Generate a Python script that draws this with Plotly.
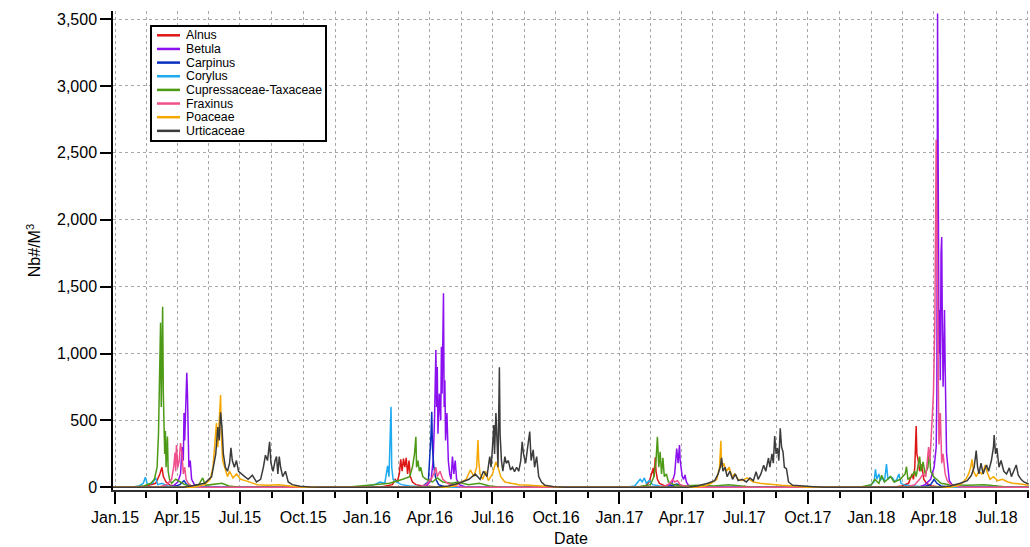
import plotly.graph_objects as go

# ---------------------------------------------------------------- data
# Daily airborne pollen concentrations (grains / m3), 2015 - 2018.
# Off-season days are zero; each list holds the season's readings.

alnus_dates = [
    "2014-12-29", "2015-02-01", "2015-02-15", "2015-02-22", "2015-03-01", "2015-03-07", "2015-03-10",
    "2015-03-12", "2015-03-16", "2015-03-22", "2015-04-05", "2015-04-20",
    "2016-01-20", "2016-02-07", "2016-02-11", "2016-02-14", "2016-02-17", "2016-02-19", "2016-02-21",
    "2016-02-23", "2016-02-25", "2016-02-27", "2016-02-29", "2016-03-02", "2016-03-04", "2016-03-07",
    "2016-03-12", "2016-03-22", "2016-04-03", "2016-04-20",
    "2017-01-25", "2017-02-08", "2017-02-13", "2017-02-17", "2017-02-19", "2017-02-20", "2017-02-22",
    "2017-02-23", "2017-02-25", "2017-02-28", "2017-03-08", "2017-03-25",
    "2018-02-01", "2018-02-14", "2018-02-24", "2018-03-01", "2018-03-03", "2018-03-05", "2018-03-07",
    "2018-03-08", "2018-03-10", "2018-03-12", "2018-03-15", "2018-03-18", "2018-03-22", "2018-03-29",
    "2018-04-15", "2018-08-17",
]
alnus_vals = [
    0, 0, 10, 20, 30, 100, 150, 80, 40, 15, 5, 0,
    0, 20, 60, 40, 100, 210, 120, 215, 150, 220, 100, 200, 80, 40, 20, 10, 5, 0,
    0, 10, 40, 100, 145, 80, 224, 120, 60, 30, 10, 0,
    0, 10, 30, 100, 60, 150, 458, 250, 200, 120, 170, 60, 30, 10, 0, 0,
]

betula_dates = [
    "2014-12-29", "2015-03-15", "2015-03-26", "2015-04-02", "2015-04-06", "2015-04-08", "2015-04-10",
    "2015-04-11", "2015-04-12", "2015-04-13", "2015-04-14", "2015-04-15", "2015-04-16", "2015-04-17",
    "2015-04-18", "2015-04-20", "2015-04-22", "2015-04-26", "2015-05-03", "2015-05-20",
    "2016-03-15", "2016-03-27", "2016-04-03", "2016-04-06", "2016-04-08", "2016-04-10", "2016-04-11",
    "2016-04-12", "2016-04-13", "2016-04-15", "2016-04-17", "2016-04-18", "2016-04-19", "2016-04-21",
    "2016-04-22", "2016-04-23", "2016-04-24", "2016-04-26", "2016-04-28", "2016-04-30", "2016-05-02",
    "2016-05-04", "2016-05-06", "2016-05-08", "2016-05-10", "2016-05-14", "2016-05-22", "2016-06-05",
    "2017-03-05", "2017-03-13", "2017-03-18", "2017-03-22", "2017-03-24", "2017-03-25", "2017-03-27",
    "2017-03-29", "2017-03-30", "2017-03-31", "2017-04-02", "2017-04-04", "2017-04-06", "2017-04-08",
    "2017-04-11", "2017-04-18", "2017-05-01",
    "2018-03-10", "2018-03-20", "2018-03-28", "2018-04-02", "2018-04-05", "2018-04-06", "2018-04-07",
    "2018-04-08", "2018-04-09", "2018-04-10", "2018-04-11", "2018-04-12", "2018-04-13", "2018-04-14",
    "2018-04-15", "2018-04-16", "2018-04-17", "2018-04-18", "2018-04-19", "2018-04-20", "2018-04-22",
    "2018-04-24", "2018-04-28", "2018-05-05", "2018-05-20", "2018-08-17",
]
betula_vals = [
    0, 0, 10, 40, 100, 300, 200, 555, 350, 600, 820, 857, 700, 300, 150, 200, 60, 20, 5, 0,
    0, 10, 50, 200, 500, 1026, 600, 900, 400, 700, 500, 1050, 700, 1450, 600, 800, 350, 555,
    200, 100, 60, 230, 100, 200, 60, 20, 5, 0,
    0, 10, 30, 100, 250, 290, 180, 316, 200, 166, 80, 60, 92, 40, 15, 5, 0,
    0, 20, 60, 150, 300, 700, 3542, 1300, 1000, 1325, 800, 1750, 1870, 1150, 752, 1000, 1325,
    900, 600, 256, 150, 50, 20, 5, 0, 0,
]

carpinus_dates = [
    "2014-12-29", "2015-03-25", "2015-04-05", "2015-04-11", "2015-04-15", "2015-04-25",
    "2016-03-15", "2016-03-22", "2016-03-30", "2016-04-01", "2016-04-03", "2016-04-04", "2016-04-05",
    "2016-04-07", "2016-04-10", "2016-04-14", "2016-04-22", "2016-05-05",
    "2017-03-10", "2017-03-20", "2017-03-25", "2017-04-02", "2017-04-15",
    "2018-03-15", "2018-03-28", "2018-04-02", "2018-04-06", "2018-04-12", "2018-04-25", "2018-08-17",
]
carpinus_vals = [
    0, 0, 20, 50, 20, 0,
    0, 10, 40, 200, 400, 565, 300, 150, 60, 20, 5, 0,
    0, 15, 25, 10, 0,
    0, 20, 60, 30, 10, 0, 0,
]

corylus_dates = [
    "2014-12-29", "2015-01-25", "2015-02-05", "2015-02-11", "2015-02-14", "2015-02-17", "2015-02-24",
    "2015-03-01", "2015-03-04", "2015-03-10", "2015-03-18", "2015-04-01",
    "2015-12-25", "2016-01-12", "2016-01-20", "2016-01-27", "2016-01-31", "2016-02-02", "2016-02-05",
    "2016-02-06", "2016-02-08", "2016-02-13", "2016-02-20", "2016-03-03", "2016-03-22", "2016-04-05",
    "2017-01-10", "2017-01-23", "2017-01-31", "2017-02-03", "2017-02-06", "2017-02-09", "2017-02-13",
    "2017-02-18", "2017-02-28", "2017-03-12",
    "2017-12-20", "2017-12-29", "2018-01-05", "2018-01-07", "2018-01-09", "2018-01-12", "2018-01-14",
    "2018-01-17", "2018-01-20", "2018-01-23", "2018-01-25", "2018-01-28", "2018-02-01", "2018-02-04",
    "2018-02-07", "2018-02-10", "2018-02-13", "2018-02-19", "2018-03-05", "2018-03-20", "2018-08-17",
]
corylus_vals = [
    0, 0, 10, 30, 75, 20, 30, 70, 20, 30, 10, 0,
    0, 20, 40, 30, 160, 80, 602, 150, 60, 40, 20, 10, 5, 0,
    0, 10, 60, 40, 70, 30, 50, 20, 10, 0,
    0, 10, 40, 134, 60, 100, 50, 75, 40, 174, 60, 80, 70, 40, 60, 100, 30, 15, 10, 0, 0,
]

cupressaceae_dates = [
    "2014-12-29", "2015-01-20", "2015-02-12", "2015-02-22", "2015-02-27", "2015-03-03", "2015-03-05",
    "2015-03-07", "2015-03-08", "2015-03-09", "2015-03-10", "2015-03-11", "2015-03-12", "2015-03-13",
    "2015-03-14", "2015-03-15", "2015-03-16", "2015-03-18", "2015-03-19", "2015-03-21", "2015-03-24",
    "2015-03-30", "2015-04-05", "2015-04-12", "2015-04-22", "2015-05-02", "2015-05-08", "2015-05-12",
    "2015-06-05", "2015-06-15", "2015-07-01",
    "2015-12-01", "2015-12-22", "2016-01-12", "2016-02-03", "2016-02-22", "2016-03-03", "2016-03-07",
    "2016-03-10", "2016-03-12", "2016-03-13", "2016-03-15", "2016-03-17", "2016-03-19", "2016-03-22",
    "2016-03-27", "2016-04-05", "2016-04-12", "2016-04-20", "2016-05-03", "2016-05-12", "2016-05-27",
    "2016-06-12", "2016-06-27", "2016-07-15",
    "2017-01-25", "2017-02-15", "2017-02-20", "2017-02-23", "2017-02-25", "2017-02-27", "2017-03-01",
    "2017-03-03", "2017-03-05", "2017-03-07", "2017-03-10", "2017-03-13", "2017-03-21", "2017-04-04",
    "2017-04-23", "2017-05-18", "2017-06-08", "2017-06-28", "2017-07-15",
    "2017-12-15", "2018-01-01", "2018-01-06", "2018-01-12", "2018-01-16", "2018-01-20", "2018-01-29",
    "2018-02-03", "2018-02-12", "2018-02-19", "2018-02-21", "2018-02-23", "2018-02-28", "2018-03-05",
    "2018-03-07", "2018-03-10", "2018-03-12", "2018-03-14", "2018-03-17", "2018-03-20", "2018-03-24",
    "2018-03-26", "2018-03-28", "2018-04-01", "2018-04-06", "2018-04-12", "2018-04-24", "2018-05-19",
    "2018-06-14", "2018-07-04", "2018-07-20", "2018-08-17",
]
cupressaceae_vals = [
    0, 0, 10, 30, 60, 150, 400, 1000, 1230, 600, 900, 1350, 700, 300, 250, 420, 150, 380, 120,
    60, 30, 60, 40, 20, 10, 15, 70, 15, 30, 10, 0,
    0, 10, 20, 30, 60, 80, 150, 250, 378, 150, 200, 120, 150, 80, 60, 40, 70, 40, 30, 40, 20,
    30, 10, 0,
    0, 20, 80, 200, 378, 150, 266, 100, 220, 80, 100, 40, 20, 10, 15, 10, 20, 10, 0,
    0, 20, 60, 30, 90, 40, 80, 40, 60, 100, 154, 60, 80, 120, 80, 170, 229, 120, 190, 100,
    150, 274, 120, 80, 60, 30, 20, 15, 20, 10, 0, 0,
]

fraxinus_dates = [
    "2014-12-29", "2015-03-05", "2015-03-17", "2015-03-24", "2015-03-27", "2015-03-29", "2015-03-30",
    "2015-03-31", "2015-04-02", "2015-04-04", "2015-04-06", "2015-04-08", "2015-04-10", "2015-04-12",
    "2015-04-14", "2015-04-17", "2015-04-22", "2015-05-05",
    "2016-03-15", "2016-03-27", "2016-04-03", "2016-04-07", "2016-04-10", "2016-04-12", "2016-04-16",
    "2016-04-20", "2016-04-27", "2016-05-07", "2016-05-20",
    "2017-02-25", "2017-03-08", "2017-03-15", "2017-03-19", "2017-03-22", "2017-03-26", "2017-03-30",
    "2017-04-06", "2017-04-20",
    "2018-02-20", "2018-03-05", "2018-03-12", "2018-03-17", "2018-03-21", "2018-03-25", "2018-03-27",
    "2018-03-30", "2018-04-01", "2018-04-03", "2018-04-05", "2018-04-06", "2018-04-07", "2018-04-08",
    "2018-04-09", "2018-04-11", "2018-04-13", "2018-04-15", "2018-04-18", "2018-04-21", "2018-04-26",
    "2018-05-06", "2018-05-20", "2018-08-17",
]
fraxinus_vals = [
    0, 0, 20, 60, 150, 260, 120, 316, 150, 200, 330, 250, 100, 150, 60, 30, 10, 0,
    0, 20, 60, 100, 150, 80, 120, 60, 30, 10, 0,
    0, 10, 30, 60, 40, 50, 20, 10, 0,
    0, 20, 60, 100, 80, 300, 200, 578, 700, 1200, 2600, 2035, 1150, 700, 320, 555, 180, 250,
    100, 50, 20, 5, 0, 0,
]

poaceae_dates = [
    "2014-12-29", "2015-04-25", "2015-05-11", "2015-05-19", "2015-05-23", "2015-05-26", "2015-05-28",
    "2015-05-30", "2015-06-01", "2015-06-03", "2015-06-04", "2015-06-06", "2015-06-09", "2015-06-13",
    "2015-06-16", "2015-06-21", "2015-06-26", "2015-07-02", "2015-07-09", "2015-07-16", "2015-07-26",
    "2015-08-11", "2015-08-26", "2015-09-11", "2015-09-30",
    "2016-04-25", "2016-05-07", "2016-05-17", "2016-05-24", "2016-05-30", "2016-06-04", "2016-06-08",
    "2016-06-10", "2016-06-11", "2016-06-13", "2016-06-17", "2016-06-21", "2016-06-25", "2016-07-01",
    "2016-07-06", "2016-07-09", "2016-07-13", "2016-07-19", "2016-07-28", "2016-08-08", "2016-08-23",
    "2016-09-08", "2016-09-23", "2016-10-10",
    "2017-04-20", "2017-05-05", "2017-05-14", "2017-05-22", "2017-05-26", "2017-05-28", "2017-05-29",
    "2017-06-01", "2017-06-05", "2017-06-09", "2017-06-13", "2017-06-17", "2017-06-22", "2017-06-28",
    "2017-07-05", "2017-07-14", "2017-07-24", "2017-08-09", "2017-08-24", "2017-09-09", "2017-09-30",
    "2018-04-25", "2018-05-05", "2018-05-12", "2018-05-18", "2018-05-22", "2018-05-25", "2018-05-27",
    "2018-05-29", "2018-06-02", "2018-06-06", "2018-06-10", "2018-06-13", "2018-06-15", "2018-06-18",
    "2018-06-22", "2018-06-27", "2018-07-03", "2018-07-10", "2018-07-18", "2018-07-25", "2018-08-05",
    "2018-08-12", "2018-08-17",
]
poaceae_vals = [
    0, 0, 20, 60, 150, 350, 480, 300, 550, 690, 400, 200, 150, 80, 120, 70, 100, 60, 50, 40,
    20, 15, 20, 10, 0,
    0, 10, 40, 60, 130, 80, 150, 354, 200, 100, 60, 120, 50, 100, 190, 150, 80, 40, 30, 20,
    15, 10, 5, 0,
    0, 10, 30, 60, 150, 348, 150, 180, 120, 150, 80, 100, 60, 50, 70, 40, 30, 20, 15, 10, 0,
    0, 10, 30, 60, 100, 150, 209, 120, 80, 120, 100, 130, 167, 110, 60, 80, 50, 60, 40, 30,
    25, 20, 15,
]

urticaceae_dates = [
    "2014-12-29", "2015-04-10", "2015-04-21", "2015-05-11", "2015-05-21", "2015-05-27", "2015-05-30",
    "2015-06-01", "2015-06-03", "2015-06-05", "2015-06-07", "2015-06-10", "2015-06-13", "2015-06-16",
    "2015-06-18", "2015-06-20", "2015-06-23", "2015-06-26", "2015-06-29", "2015-07-03", "2015-07-08",
    "2015-07-13", "2015-07-19", "2015-07-25", "2015-07-31", "2015-08-04", "2015-08-07", "2015-08-10",
    "2015-08-13", "2015-08-15", "2015-08-18", "2015-08-21", "2015-08-23", "2015-08-25", "2015-08-27",
    "2015-08-29", "2015-09-01", "2015-09-05", "2015-09-09", "2015-09-15", "2015-09-26", "2015-10-11",
    "2015-10-30",
    "2016-04-10", "2016-04-28", "2016-05-13", "2016-05-28", "2016-06-06", "2016-06-13", "2016-06-18",
    "2016-06-23", "2016-06-27", "2016-06-29", "2016-07-01", "2016-07-03", "2016-07-04", "2016-07-06",
    "2016-07-08", "2016-07-09", "2016-07-11", "2016-07-12", "2016-07-14", "2016-07-16", "2016-07-19",
    "2016-07-21", "2016-07-24", "2016-07-27", "2016-07-30", "2016-08-02", "2016-08-05", "2016-08-08",
    "2016-08-11", "2016-08-13", "2016-08-15", "2016-08-18", "2016-08-21", "2016-08-24", "2016-08-26",
    "2016-08-29", "2016-08-31", "2016-09-03", "2016-09-06", "2016-09-10", "2016-09-15", "2016-09-28",
    "2016-10-15",
    "2017-04-10", "2017-04-24", "2017-05-09", "2017-05-19", "2017-05-24", "2017-05-27", "2017-05-29",
    "2017-05-31", "2017-06-03", "2017-06-06", "2017-06-10", "2017-06-14", "2017-06-18", "2017-06-22",
    "2017-06-28", "2017-07-04", "2017-07-09", "2017-07-14", "2017-07-18", "2017-07-21", "2017-07-25",
    "2017-07-29", "2017-08-01", "2017-08-05", "2017-08-07", "2017-08-10", "2017-08-12", "2017-08-14",
    "2017-08-16", "2017-08-18", "2017-08-20", "2017-08-22", "2017-08-24", "2017-08-26", "2017-08-28",
    "2017-08-31", "2017-09-03", "2017-09-09", "2017-09-19", "2017-09-29", "2017-10-09", "2017-10-25",
    "2018-04-10", "2018-04-25", "2018-05-10", "2018-05-20", "2018-05-26", "2018-05-30", "2018-06-02",
    "2018-06-04", "2018-06-06", "2018-06-09", "2018-06-12", "2018-06-14", "2018-06-17", "2018-06-20",
    "2018-06-24", "2018-06-27", "2018-06-28", "2018-06-30", "2018-07-02", "2018-07-05", "2018-07-08",
    "2018-07-12", "2018-07-16", "2018-07-20", "2018-07-23", "2018-07-27", "2018-07-30", "2018-08-02",
    "2018-08-06", "2018-08-10", "2018-08-15", "2018-08-17",
]
urticaceae_vals = [
    0, 0, 10, 30, 80, 250, 450, 350, 560, 450, 250, 150, 120, 180, 295, 200, 150, 200, 120, 100,
    80, 60, 90, 40, 60, 150, 240, 200, 340, 180, 120, 200, 230, 100, 230, 150, 80, 120, 40, 20,
    8, 3, 0,
    0, 10, 30, 60, 100, 60, 120, 80, 230, 150, 300, 466, 250, 555, 300, 150, 897, 400, 200, 120,
    230, 180, 200, 130, 150, 117, 150, 120, 200, 340, 250, 180, 300, 416, 200, 280, 150, 229,
    80, 40, 15, 5, 0,
    0, 10, 30, 50, 100, 150, 220, 120, 150, 80, 120, 60, 100, 50, 60, 40, 70, 50, 117, 60, 100,
    165, 120, 219, 150, 250, 180, 383, 250, 294, 200, 441, 300, 266, 150, 140, 40, 15, 10, 8, 5, 0,
    0, 10, 30, 50, 90, 150, 274, 150, 100, 180, 100, 130, 167, 120, 200, 300, 391, 250, 294, 150,
    200, 120, 100, 145, 80, 130, 167, 90, 60, 40, 30, 25,
]

series_names = ["Alnus", "Betula", "Carpinus", "Corylus", "Cupressaceae-Taxaceae",
                "Fraxinus", "Poaceae", "Urticaceae"]

# axis labelling
x_tick_dates = ["2015-01-01", "2015-04-01", "2015-07-01", "2015-10-01",
                "2016-01-01", "2016-04-01", "2016-07-01", "2016-10-01",
                "2017-01-01", "2017-04-01", "2017-07-01", "2017-10-01",
                "2018-01-01", "2018-04-01", "2018-07-01"]
x_tick_labels = ["Jan.15", "Apr.15", "Jul.15", "Oct.15", "Jan.16", "Apr.16", "Jul.16", "Oct.16",
                 "Jan.17", "Apr.17", "Jul.17", "Oct.17", "Jan.18", "Apr.18", "Jul.18"]
x_minor_dates = ["2015-02-15 12:00", "2015-05-16 12:00", "2015-08-16", "2015-11-16",
                 "2016-02-15 12:00", "2016-05-16 12:00", "2016-08-16", "2016-11-16",
                 "2017-02-15 12:00", "2017-05-16 12:00", "2017-08-16", "2017-11-16",
                 "2018-02-15 12:00", "2018-05-16 12:00", "2018-08-16"]
y_tick_values = [0, 500, 1000, 1500, 2000, 2500, 3000, 3500]

# ---------------------------------------------------------------- style
colors = ["#dd1616", "#8a10f0", "#0a2fc0", "#1eaaf0", "#4c9a16", "#f0508c", "#f6a800", "#3c3c3c"]
FONT = "Liberation Sans, Arial, sans-serif"

W, H = 1030, 547
ML, MR, MT, MB = 113, 1, 11, 57
PW, PH = W - ML - MR, H - MT - MB

series = [
    (alnus_dates, alnus_vals), (betula_dates, betula_vals), (carpinus_dates, carpinus_vals),
    (corylus_dates, corylus_vals), (cupressaceae_dates, cupressaceae_vals),
    (fraxinus_dates, fraxinus_vals), (poaceae_dates, poaceae_vals),
    (urticaceae_dates, urticaceae_vals),
]

fig = go.Figure()
for name, (d, v), c in zip(series_names, series, colors):
    fig.add_trace(go.Scatter(x=d, y=v, mode="lines", name=name, showlegend=False,
                             line=dict(color=c, width=1.5), hoverinfo="x+y+name"))


def px_x(px):
    return (px - ML) / PW


def px_y(py):
    return (H - MB - py) / PH


# boxed key in the upper left of the plot
shapes = [dict(type="rect", xref="paper", yref="paper",
               x0=px_x(151), x1=px_x(326), y0=px_y(141), y1=px_y(26),
               line=dict(color="black", width=2), fillcolor="white", layer="above")]
annotations = []
for i, (name, c) in enumerate(zip(series_names, colors)):
    row_y = 35.3 + i * 13.65
    shapes.append(dict(type="line", xref="paper", yref="paper",
                       x0=px_x(157), x1=px_x(180), y0=px_y(row_y), y1=px_y(row_y),
                       line=dict(color=c, width=2.5), layer="above"))
    annotations.append(dict(xref="paper", yref="paper", x=px_x(184), y=px_y(row_y),
                            text=name, showarrow=False, xanchor="left", yanchor="middle",
                            font=dict(family=FONT, size=12.3, color="black")))

grid = dict(showgrid=True, gridcolor="#a8a8a8", gridwidth=1, griddash="dot")

fig.update_layout(
    width=W, height=H,
    margin=dict(l=ML, r=MR, t=MT, b=MB, pad=0),
    paper_bgcolor="white", plot_bgcolor="white",
    font=dict(family=FONT, size=16, color="black"),
    shapes=shapes, annotations=annotations,
    xaxis=dict(
        type="date", range=["2014-12-29 02:00", "2018-08-17 12:00"],
        tickmode="array", tickvals=x_tick_dates, ticktext=x_tick_labels,
        ticks="outside", ticklen=12, tickwidth=1.5, tickcolor="black",
        showline=True, linecolor="#303030", linewidth=2, zeroline=False,
        tickfont=dict(family=FONT, size=16),
        title=dict(text="Date", font=dict(family=FONT, size=16), standoff=9),
        minor=dict(tickmode="array", tickvals=x_minor_dates, ticks="outside", ticklen=6,
                   tickwidth=1.5, tickcolor="black", **grid),
        **grid,
    ),
    yaxis=dict(
        range=[-20, 3560], tickmode="array", tickvals=y_tick_values, tickformat=",d",
        ticks="outside", ticklen=11, tickwidth=1.5, tickcolor="black",
        showline=True, linecolor="black", linewidth=1.5, zeroline=False,
        tickfont=dict(family=FONT, size=16),
        title=dict(text="Nb#/M<sup>3</sup>", font=dict(family=FONT, size=16), standoff=12),
        **grid,
    ),
)

fig.write_html("out.html")
